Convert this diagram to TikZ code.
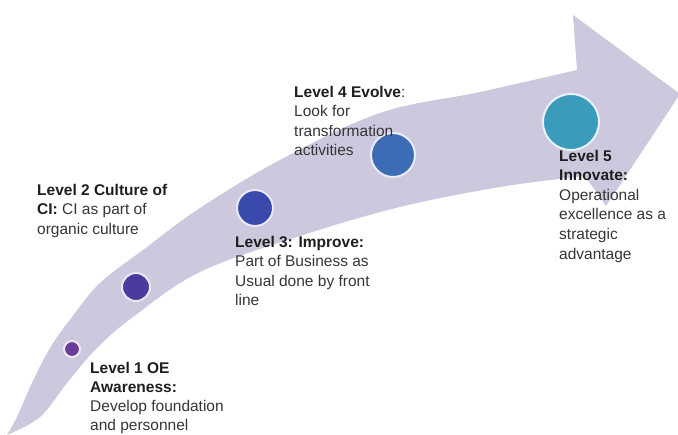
\documentclass[tikz,border=0pt]{standalone}
\usepackage{fontspec}
\setmainfont{Liberation Sans}
\usetikzlibrary{positioning}

\definecolor{arrow lilac}{HTML}{CEC8DE}
\definecolor{text grey}{HTML}{363636}
\definecolor{head black}{HTML}{1E1E1E}
\definecolor{dot one}{HTML}{6A3D99}
\definecolor{dot two}{HTML}{4D3A9E}
\definecolor{dot three}{HTML}{3949AC}
\definecolor{dot four}{HTML}{3B6CB5}
\definecolor{dot five}{HTML}{3A9BBA}

\newcommand{\lvlhead}[1]{{\bfseries\color{head black}#1}}

\begin{document}
\begin{tikzpicture}[x=1pt, y=-1pt]
    \tikzset{
      shaft/.style = { fill = arrow lilac },
      level dot/.style = { circle, fill = #1, draw = #1!12!white, line width = 2pt, inner sep = 0pt },
      level text/.style = { anchor = north west, align = left, inner sep = 0pt, text = text grey,
                            font = \fontsize{15.5}{19.6}\selectfont },
    }
    \useasboundingbox (0,0) rectangle (678,435);

    \fill[shaft] plot[smooth, tension=0.6] coordinates {
            (7,435) (17,417) (32,383) (50,348) (72,317) (100,283) (143,250)
            (200,208) (280,160) (380,113) (480,92) (577,70)}
        -- (573,15) -- (680,94) -- (606,206) -- (585,176)
        -- plot[smooth, tension=0.6] coordinates {
            (585,176) (500,187) (400,207) (300,236) (200,272) (133,317)
            (97,348) (67,383) (40,417) (7,435)}
        -- cycle;

    \foreach \col/\d/\x/\y [count = \i] in {dot one/16/72/349, dot two/28/136/287,
            dot three/36/255/208, dot four/44/393/155, dot five/56/571/122}
        \node[level dot = \col, minimum size = \d pt] (level dot-\i) at (\x,\y) {};

    \node[level text, font = \fontsize{15.5}{19.1}\selectfont] (level text-1) at (90,362)
        {\lvlhead{Level 1 OE}\\ \lvlhead{Awareness:}\\ Develop foundation\\ and personnel};
    \node[level text] (level text-2) at (37,183.7)
        {\lvlhead{Level 2 Culture of}\\ \lvlhead{CI:} CI as part of\\ organic culture};
    \node[level text] (level text-3) at (235,235.7)
        {\lvlhead{Level 3: Improve:}\\ Part of Business as\\ Usual done by front\\ line};
    \node[level text] (level text-4) at (294,85.7)
        {\lvlhead{Level 4 Evolve}:\\ Look for\\ transformation\\ activities};
    \node[level text] (level text-5) at (559,149.7)
        {\lvlhead{Level 5}\\ \lvlhead{Innovate:}\\ Operational\\ excellence as a\\ strategic\\ advantage};
\end{tikzpicture}
\end{document}
